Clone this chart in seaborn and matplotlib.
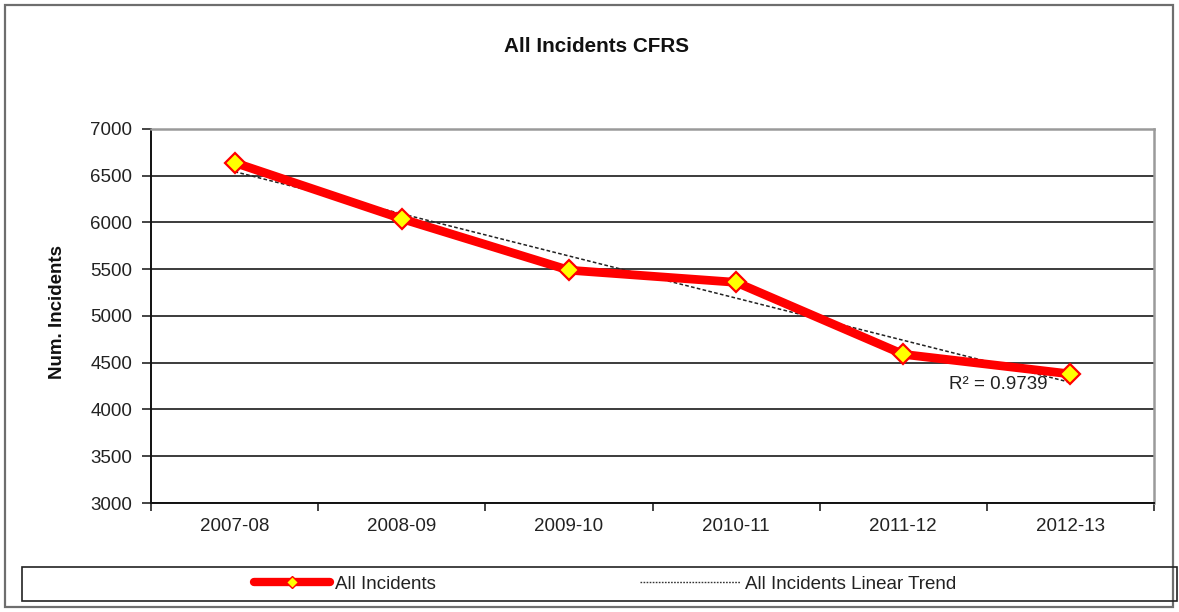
import numpy as np
import pandas as pd
import matplotlib
matplotlib.use("Agg")
import matplotlib.pyplot as plt
from matplotlib import font_manager
from matplotlib.lines import Line2D
from matplotlib.patches import Rectangle
import seaborn as sns

# ---- data -------------------------------------------------------------
years = ["2007-08", "2008-09", "2009-10", "2010-11", "2011-12", "2012-13"]
incidents = [6640, 6040, 5490, 5360, 4590, 4380]
r_squared = 0.9739
y_ticks = [3000, 3500, 4000, 4500, 5000, 5500, 6000, 6500, 7000]

title = "All Incidents CFRS"
y_label = "Num. Incidents"
series_name = "All Incidents"
trend_name = "All Incidents Linear Trend"

# ---- style --------------------------------------------------------------
sns.set_theme(style="white")
installed = {f.name for f in font_manager.fontManager.ttflist}
if "Liberation Sans Narrow" in installed:
    FONT, FS = "Liberation Sans Narrow", 16.0
else:
    FONT, FS = "Liberation Sans", 13.5
plt.rcParams["font.family"] = [FONT, "DejaVu Sans"]

W, H, DPI = 1179, 612, 100
fig = plt.figure(figsize=(W / DPI, H / DPI), dpi=DPI, facecolor="white")
ax = fig.add_axes([151 / W, 1 - 503 / H, (1154 - 151) / W, (503 - 129) / H])
ax.set_facecolor("white")

df = pd.DataFrame({"Year": years, "Incidents": incidents})
xpos = np.arange(len(years))

# linear trend (least squares) over the data range
sns.regplot(x=xpos, y=np.array(incidents, dtype=float), ax=ax, ci=None,
            scatter=False, truncate=True,
            line_kws=dict(color="#222222", lw=1.1, ls=(0, (2.4, 1.5)), zorder=4))

# main series
sns.lineplot(data=df, x="Year", y="Incidents", ax=ax, sort=False,
             color="#FF0000", lw=6.3, marker="D", markersize=10.5,
             markerfacecolor="#FFFF00", markeredgecolor="#FF0000",
             markeredgewidth=1.6, zorder=5)

ax.set_xlim(-0.5, len(years) - 0.5)
ax.set_ylim(3000, 7000)
ax.set_yticks(y_ticks)
ax.set_xticks(xpos)
ax.set_xticklabels(years)
ax.set_xticks(np.arange(-0.5, len(years), 1.0), minor=True)
ax.set_xlabel("")
ax.set_ylabel("")

# horizontal gridlines
ax.yaxis.grid(True, color="#1a1a1a", lw=1.2, zorder=0)
ax.xaxis.grid(False)
ax.set_axisbelow(True)

for side in ("left", "bottom"):
    ax.spines[side].set_color("#111111")
    ax.spines[side].set_linewidth(1.4)
for side in ("top", "right"):
    ax.spines[side].set_color("#9a9a9a")
    ax.spines[side].set_linewidth(1.8)
for s in ax.spines.values():
    s.set_zorder(6)

ax.tick_params(axis="y", which="major", direction="out", length=6.5, width=1.1,
               color="#111111", left=True, pad=7, labelsize=FS, labelcolor="#222222")
ax.tick_params(axis="x", which="major", length=0, pad=11, labelsize=FS,
               labelcolor="#222222")
ax.tick_params(axis="x", which="minor", direction="out", length=6, width=1.1,
               color="#111111", bottom=True)

# R² of the trend
ax.text(4.57, 4265, f"R\u00b2 = {r_squared:.4f}", ha="center", va="center",
        fontsize=FS, color="#222222", zorder=7)

# titles
fig.text(597 / W, 1 - 47 / H, title, ha="center", va="center",
         fontsize=FS * 1.1, fontweight="bold", color="#111111")
fig.text(58 / W, 1 - 312 / H, y_label, ha="center", va="center", rotation=90,
         fontsize=FS, fontweight="bold", color="#111111")

# chart frame and legend box
fig.patches.append(Rectangle((5 / W, 5 / H), (1173 - 5) / W, (607 - 5) / H,
                             transform=fig.transFigure, fill=False,
                             edgecolor="#6e6e6e", lw=1.6, zorder=0))
fig.patches.append(Rectangle((22 / W, 1 - 601 / H), (1177 - 22) / W, 34 / H,
                             transform=fig.transFigure, fill=False,
                             edgecolor="#222222", lw=1.2, zorder=1))

fs_px = FS * DPI / 72
h_series = Line2D([], [], color="#FF0000", lw=6, marker="D", markersize=6,
                  markerfacecolor="#FFFF00", markeredgecolor="#FF0000",
                  markeredgewidth=1.0, solid_capstyle="round")
h_trend = Line2D([], [], color="#333333", lw=1.0, ls=(0, (1.2, 1.0)))
leg_y = 1 - 584 / H
for handle, label, x0, hlen in ((h_series, series_name, 254, 76),
                                (h_trend, trend_name, 640, 100)):
    leg = fig.legend([handle], [label], loc="center left",
                     bbox_to_anchor=(x0 / W, leg_y), frameon=False,
                     fontsize=FS, handlelength=hlen / fs_px,
                     handletextpad=0.25, borderpad=0, borderaxespad=0)
    for t in leg.get_texts():
        t.set_color("#222222")

fig.savefig("out.png", dpi=DPI, facecolor="white")
